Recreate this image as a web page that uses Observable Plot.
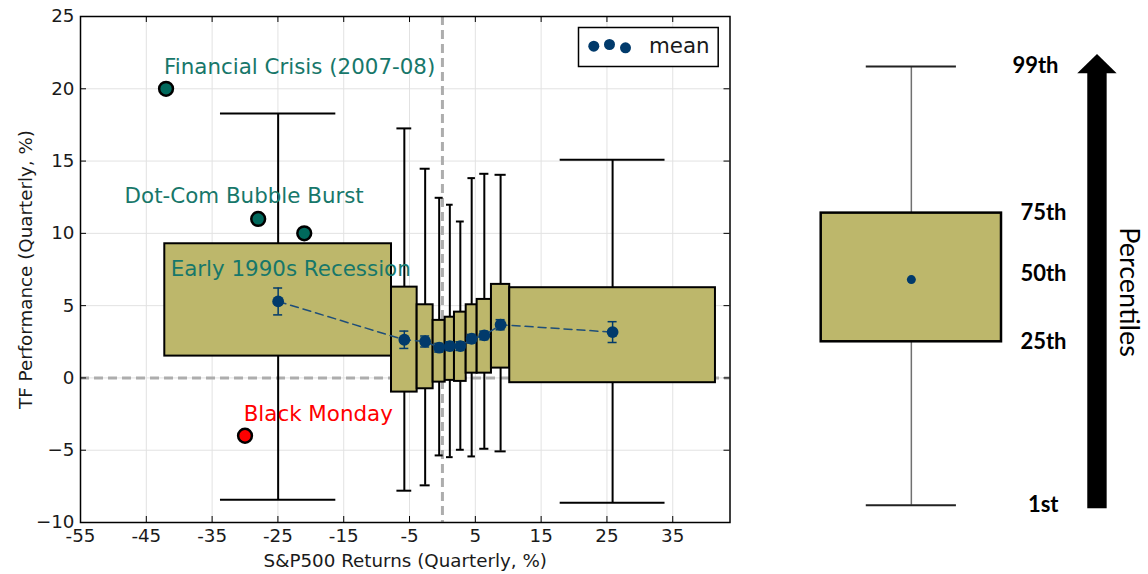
<!DOCTYPE html>
<html><head><meta charset="utf-8">
<script src="https://cdn.jsdelivr.net/npm/d3@7"></script>
<script src="https://cdn.jsdelivr.net/npm/@observablehq/plot@0.6"></script>
<style>
html,body{margin:0;padding:0;background:#fff;}
#wrap{position:relative;width:1148px;height:574px;overflow:hidden;background:#fff;}
#main{position:absolute;left:0;top:0;}
#key{position:absolute;left:740px;top:0;}
</style></head><body>
<div id="wrap"><div id="main"></div><div id="key"></div></div>
<script>
// ---- data ----
const binEdges = [-42.19, -7.74, -3.84, -1.41, 0.42, 1.83, 3.61, 5.28, 7.45, 10.23, 41.49];
const p1   = [-8.42, -7.80, -7.43, -5.36, -5.48, -4.97, -5.43, -4.90, -5.08, -8.63];
const p25  = [ 1.51, -0.98, -0.75, -0.29, -0.17, -0.24,  0.33,  0.33,  0.68, -0.33];
const p75  = [ 9.28,  6.28,  5.06,  3.98,  4.20,  4.55,  5.06,  5.43,  6.47,  6.24];
const p99  = [18.29, 17.26, 14.47, 12.46, 11.98, 10.82, 13.82, 14.12, 14.05, 15.09];
const means   = [5.29, 2.64, 2.52, 2.09, 2.20, 2.20, 2.71, 2.94, 3.68, 3.17];
const meanErr = [0.93, 0.60, 0.38, 0.30, 0.30, 0.30, 0.30, 0.30, 0.35, 0.72];

const eventNames = ["Financial Crisis", "Dot-Com 1", "Dot-Com 2", "Black Monday"];
const eventX = [-42, -28, -21, -30];
const eventY = [20, 11, 10, -4];
const eventColor = ["#00695c", "#00695c", "#00695c", "#ff0000"];

const annText  = ["Financial Crisis (2007-08)", "Dot-Com Bubble Burst", "Early 1990s Recession", "Black Monday"];
const annX     = [-42.3, -48.3, -41.3, -30.2];
const annY     = [21.5, 12.55, 7.5, -2.5];
const annColor = ["#17776a", "#17776a", "#17776a", "#ff0000"];

const xTicks = [-55, -45, -35, -25, -15, -5, 5, 15, 25, 35];
const yTicks = [-10, -5, 0, 5, 10, 15, 20, 25];

// key (right panel) schematic
const keyLabels = ["1st", "25th", "50th", "75th", "99th"];
const keyValues = [-8.8, 2.5, 7.2, 11.4, 21.55];
const keyMean = 6.8;
const arrowShaftX = [1.957, 2.172];
const arrowShaftY = [-9.05, 21.1];
const arrowHeadX = [1.846, 2.065, 2.283];
const arrowHeadY = [21.04, 22.37, 21.04];

// ---- build ----
const bins = means.map((m, i) => ({
  lo: binEdges[i], hi: binEdges[i + 1], mid: (binEdges[i] + binEdges[i + 1]) / 2,
  q1: p1[i], q25: p25[i], q75: p75[i], q99: p99[i], mean: m, err: meanErr[i]
}));
const events = eventX.map((x, i) => ({name: eventNames[i], x, y: eventY[i], c: eventColor[i]}));
const anns = annText.map((t, i) => ({t, x: annX[i], y: annY[i], c: annColor[i]}));

const mW = 740, mH = 574, mL = 80, mR = 10.5, mT = 16, mB = 52;
const fW = mW - mL - mR, fH = mH - mT - mB;
const navy = "#013a6b";

const main = Plot.plot({
  width: mW, height: mH,
  marginLeft: mL, marginRight: mR, marginTop: mT, marginBottom: mB,
  style: {fontFamily: "DejaVu Sans", fontSize: "18.3px", color: "#1a1a1a", background: "white", overflow: "visible"},
  x: {domain: [-55, 43.7], ticks: xTicks, tickFormat: d => String(d), tickSize: 0, tickPadding: 6,
      label: "S&P500 Returns (Quarterly, %)", labelAnchor: "center", labelOffset: 44, labelArrow: "none"},
  y: {domain: [-10, 25], ticks: yTicks, tickFormat: d => d < 0 ? "\u2212" + Math.abs(d) : String(d), tickSize: 0, tickPadding: 6,
      label: "TF Performance (Quarterly, %)", labelAnchor: "center", labelOffset: 62, labelArrow: "none"},
  marks: [
    // grid
    Plot.ruleX(xTicks, {x: d => d, stroke: "#e2e2e2", strokeWidth: 1}),
    Plot.ruleY(yTicks, {y: d => d, stroke: "#e2e2e2", strokeWidth: 1}),
    // zero reference lines
    Plot.ruleY([0], {y: d => d, stroke: "#adadad", strokeWidth: 3, strokeDasharray: "9,5"}),
    Plot.ruleX([0], {x: d => d, stroke: "#adadad", strokeWidth: 3, strokeDasharray: "9,5"}),
    // whiskers
    Plot.ruleX(bins, {x: "mid", y1: "q1", y2: "q99", stroke: "black", strokeWidth: 2}),
    Plot.ruleY(bins, {y: "q99", x1: d => d.mid - (d.hi - d.lo) / 4, x2: d => d.mid + (d.hi - d.lo) / 4, stroke: "black", strokeWidth: 2, strokeLinecap: "square"}),
    Plot.ruleY(bins, {y: "q1", x1: d => d.mid - (d.hi - d.lo) / 4, x2: d => d.mid + (d.hi - d.lo) / 4, stroke: "black", strokeWidth: 2, strokeLinecap: "square"}),
    // boxes
    Plot.rect(bins, {x1: "lo", x2: "hi", y1: "q25", y2: "q75", fill: "#bdb76b", stroke: "black", strokeWidth: 2}),
    // mean line, error bars, dots
    Plot.line(bins, {x: "mid", y: "mean", stroke: "#1f4e79", strokeWidth: 1.5, strokeDasharray: "8,5"}),
    Plot.ruleX(bins, {x: "mid", y1: d => d.mean - d.err, y2: d => d.mean + d.err, stroke: navy, strokeWidth: 1.5}),
    Plot.ruleY(bins, {y: d => d.mean + d.err, x1: "mid", x2: "mid", insetLeft: -4.5, insetRight: -4.5, stroke: navy, strokeWidth: 1.5}),
    Plot.ruleY(bins, {y: d => d.mean - d.err, x1: "mid", x2: "mid", insetLeft: -4.5, insetRight: -4.5, stroke: navy, strokeWidth: 1.5}),
    Plot.dot(bins, {x: "mid", y: "mean", r: 5.9, fill: navy}),
    // events
    Plot.dot(events, {x: "x", y: "y", r: 6.9, fill: "c", stroke: "black", strokeWidth: 2.5}),
    Plot.text(anns, {x: "x", y: "y", text: "t", fill: "c", textAnchor: "start", lineAnchor: "middle", fontSize: 21.4}),
    // legend
    Plot.frame({stroke: "black", strokeWidth: 1.5, fill: "white", insetLeft: 498, insetRight: 11.8, insetTop: 11, insetBottom: fH - 50}),
    Plot.dot(["mean"], {frameAnchor: "top-right", dx: -136.2, dy: 29.7, r: 5.5, fill: navy}),
    Plot.dot(["mean"], {frameAnchor: "top-right", dx: -120.5, dy: 28, r: 5.5, fill: navy}),
    Plot.dot(["mean"], {frameAnchor: "top-right", dx: -104.5, dy: 31.3, r: 5.5, fill: navy}),
    Plot.text(["mean"], {frameAnchor: "top-right", text: d => d, dx: -81, dy: 30, textAnchor: "start", lineAnchor: "middle", fontSize: 21.4, fill: "#1a1a1a"}),
    // inward ticks on all four sides
    Plot.tickX(xTicks, {x: d => d, insetTop: fH - 6, stroke: "black", strokeWidth: 1}),
    Plot.tickX(xTicks, {x: d => d, insetBottom: fH - 6, stroke: "black", strokeWidth: 1}),
    Plot.tickY(yTicks, {y: d => d, insetRight: fW - 6, stroke: "black", strokeWidth: 1}),
    Plot.tickY(yTicks, {y: d => d, insetLeft: fW - 6, stroke: "black", strokeWidth: 1}),
    Plot.frame({stroke: "black", strokeWidth: 1.5})
  ]
});
document.getElementById("main").appendChild(main);

const keyPlot = Plot.plot({
  width: 408, height: 574,
  marginLeft: 80.7, marginRight: 147, marginTop: mT, marginBottom: mB,
  style: {fontFamily: "Lato", background: "white", overflow: "visible"},
  x: {domain: [-1, 1], axis: null},
  y: {domain: [-10, 25], axis: null},
  marks: [
    Plot.ruleX([0], {x: d => d, y1: keyValues[0], y2: keyValues[4], stroke: "#707070", strokeWidth: 1.5}),
    Plot.ruleY([keyValues[0], keyValues[4]], {y: d => d, x1: -0.5, x2: 0.5, stroke: "#222", strokeWidth: 2}),
    Plot.rect([0], {x1: -1, x2: 1, y1: keyValues[1], y2: keyValues[3], fill: "#bdb76b", stroke: "black", strokeWidth: 2.5}),
    Plot.dot([keyMean], {x: 0, y: d => d, r: 4.5, fill: navy}),
    Plot.text([0, 4], {x: 1, y: i => keyValues[i], text: i => keyLabels[i], dx: 57, textAnchor: "end", lineAnchor: "middle", fontWeight: "bold", fontSize: 22, fill: "black"}),
    Plot.text([1, 2, 3], {x: 1, y: i => keyValues[i], text: i => keyLabels[i], dx: 65, textAnchor: "end", lineAnchor: "middle", fontWeight: "bold", fontSize: 22, fill: "black"}),
    Plot.rect([0], {x1: arrowShaftX[0], x2: arrowShaftX[1], y1: arrowShaftY[0], y2: arrowShaftY[1], fill: "black"}),
    Plot.areaY(arrowHeadX.map((x, i) => ({x, y: arrowHeadY[i]})), {x: "x", y1: arrowHeadY[0], y2: "y", fill: "black"}),
    Plot.text(["Percentiles"], {x: 2.41, y: 5.94, text: d => d, rotate: 90, fontSize: 27, fill: "black", lineAnchor: "middle"})
  ]
});
document.getElementById("key").appendChild(keyPlot);
</script>
</body></html>
